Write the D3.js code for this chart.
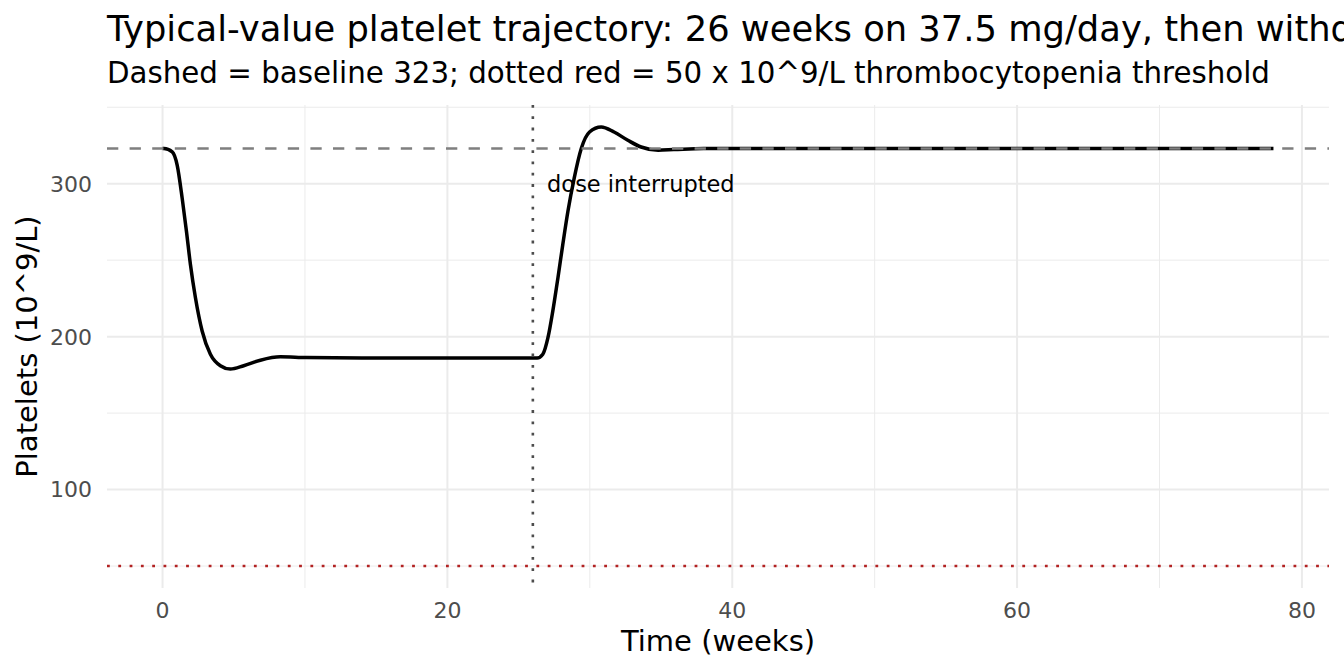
<!DOCTYPE html>
<meta charset="utf-8">
<style>
  body { margin: 0; background: #fff; }
  #chart { width: 1344px; height: 672px; overflow: hidden; }
  text { font-family: "DejaVu Sans", sans-serif; }
</style>
<body>
<div id="chart"></div>
<script src="https://d3js.org/d3.v7.min.js"></script>
<script>
  // values (weeks, platelets 10^9/L)
  const weeks = [0, 0.1, 0.68, 1.03, 1.38, 1.68, 1.96, 2.31, 2.78, 3.36, 4.06, 4.76, 5.7, 6.87, 8.27, 10.1, 14, 20, 26.3,
    26.7, 27.06, 27.4, 27.76, 28.1, 28.46, 28.9, 29.4, 29.98, 30.8, 31.7, 32.67, 33.6, 34.8, 35.9, 38, 45, 60, 78];
  const platelets = [323, 323, 320.8, 312, 290.4, 268.8, 247, 225.4, 203.7, 188.5, 181, 178.8, 181, 184.6, 186.8, 186.3, 186, 186, 186,
    188.5, 199.3, 216.7, 238.4, 260.1, 281.8, 303.5, 323, 333.8, 337.1, 333.8, 328.4, 324, 321.9, 322.3, 323, 323, 323, 323];

  const baseline = 323;
  const threshold = 50;
  const doseStop = 26;
  const xTicks = [0, 20, 40, 60, 80];
  const xMinor = [10, 30, 50, 70];
  const yTicks = [100, 200, 300];
  const yMinor = [50, 150, 250, 350];

  const W = 1344, H = 672;
  const margin = { top: 105, right: 15, bottom: 84, left: 107 };
  const width = W - margin.left - margin.right,
    height = H - margin.top - margin.bottom;

  const data = weeks.map((w, i) => ({ w: w, v: platelets[i] }));

  // ggplot-style 5% expansion
  const xr = [0, 78], yr = [threshold, d3.max(platelets)];
  const xe = (xr[1] - xr[0]) * 0.05, ye = (yr[1] - yr[0]) * 0.05;
  const x = d3.scaleLinear().domain([xr[0] - xe, xr[1] + xe]).range([0, width]);
  const y = d3.scaleLinear().domain([yr[0] - ye, yr[1] + ye]).range([height, 0]);

  const svg = d3.select("#chart").append("svg")
    .attr("width", W).attr("height", H);

  // title runs past the right edge, as in the original
  svg.append("text").attr("x", margin.left).attr("y", 41)
    .style("font-size", "35.3px").attr("fill", "#000")
    .text("Typical-value platelet trajectory: 26 weeks on 37.5 mg/day, then withdrawn");
  svg.append("text").attr("x", margin.left).attr("y", 83)
    .style("font-size", "29.3px").attr("fill", "#000")
    .text("Dashed = baseline 323; dotted red = 50 x 10^9/L thrombocytopenia threshold");

  const g = svg.append("g").attr("transform", `translate(${margin.left},${margin.top})`);

  // grid
  g.selectAll(".xminor").data(xMinor).join("line")
    .attr("x1", d => x(d)).attr("x2", d => x(d)).attr("y1", 0).attr("y2", height)
    .attr("stroke", "#ebebeb").attr("stroke-width", 1);
  g.selectAll(".yminor").data(yMinor.filter(d => y(d) >= 0 && y(d) <= height)).join("line")
    .attr("y1", d => y(d)).attr("y2", d => y(d)).attr("x1", 0).attr("x2", width)
    .attr("stroke", "#ebebeb").attr("stroke-width", 1);
  g.selectAll(".xmajor").data(xTicks).join("line")
    .attr("x1", d => x(d)).attr("x2", d => x(d)).attr("y1", 0).attr("y2", height)
    .attr("stroke", "#ebebeb").attr("stroke-width", 2);
  g.selectAll(".ymajor").data(yTicks).join("line")
    .attr("y1", d => y(d)).attr("y2", d => y(d)).attr("x1", 0).attr("x2", width)
    .attr("stroke", "#ebebeb").attr("stroke-width", 2);

  // trajectory
  const line = d3.line().x(d => x(d.w)).y(d => y(d.v)).curve(d3.curveMonotoneX);
  g.append("path").datum(data).attr("d", line)
    .attr("fill", "none").attr("stroke", "#000").attr("stroke-width", 3.5)
    .attr("stroke-linejoin", "round");

  // reference lines
  g.append("line").attr("x1", 0).attr("x2", width).attr("y1", y(baseline)).attr("y2", y(baseline))
    .attr("stroke", "#7f7f7f").attr("stroke-width", 2.4).attr("stroke-dasharray", "11.3,11.3");
  g.append("line").attr("x1", 0).attr("x2", width).attr("y1", y(threshold)).attr("y2", y(threshold))
    .attr("stroke", "#b22222").attr("stroke-width", 2.6).attr("stroke-dasharray", "2.8,8.5");
  g.append("line").attr("x1", x(doseStop)).attr("x2", x(doseStop)).attr("y1", 0).attr("y2", height)
    .attr("stroke", "#4d4d4d").attr("stroke-width", 2.6).attr("stroke-dasharray", "2.8,8.5");

  g.append("text").attr("x", x(doseStop + 1)).attr("y", y(300)).attr("dy", "0.35em")
    .style("font-size", "22.5px").attr("fill", "#000").text("dose interrupted");

  // axes (text only, like theme_minimal)
  g.selectAll(".xt").data(xTicks).join("text")
    .attr("x", d => x(d)).attr("y", height + 30).attr("text-anchor", "middle")
    .style("font-size", "22px").attr("fill", "#4d4d4d").text(d => d);
  g.selectAll(".yt").data(yTicks).join("text")
    .attr("x", -15).attr("y", d => y(d)).attr("dy", "0.36em").attr("text-anchor", "end")
    .style("font-size", "22px").attr("fill", "#4d4d4d").text(d => d);

  g.append("text").attr("x", width / 2).attr("y", height + 63).attr("text-anchor", "middle")
    .style("font-size", "29px").attr("fill", "#000").text("Time (weeks)");
  g.append("text").attr("transform", `translate(${-70},${height / 2}) rotate(-90)`)
    .attr("text-anchor", "middle")
    .style("font-size", "29px").attr("fill", "#000").text("Platelets (10^9/L)");
</script>
</body>
